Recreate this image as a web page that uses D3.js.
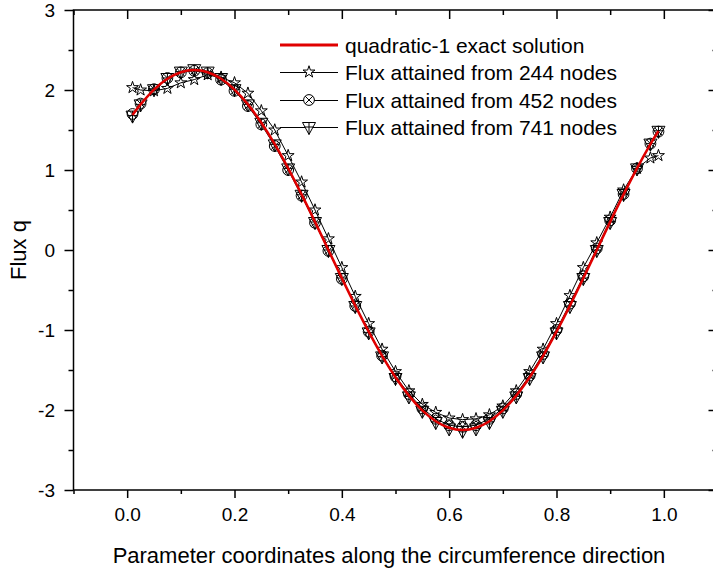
<!DOCTYPE html>
<html>
<head>
<meta charset="utf-8">
<script src="https://cdn.jsdelivr.net/npm/d3@7"></script>
<style>
  body { margin: 0; background: #fff; }
  svg { display: block; font-family: Arial, "Liberation Sans", sans-serif; }
</style>
</head>
<body>
<script>

// parameter coordinate of the nodes
var xVals = [0.01, 0.025, 0.05, 0.075, 0.1, 0.125, 0.15, 0.175, 0.2, 0.225,
             0.25, 0.275, 0.3, 0.325, 0.35, 0.375, 0.4, 0.425, 0.45, 0.475,
             0.5, 0.525, 0.55, 0.575, 0.6, 0.625, 0.65, 0.675, 0.7, 0.725,
             0.75, 0.775, 0.8, 0.825, 0.85, 0.875, 0.9, 0.925, 0.95, 0.975, 0.99];

var exact = [1.688, 1.820, 2.005, 2.140, 2.222, 2.250, 2.222, 2.140, 2.005, 1.820,
             1.591, 1.323, 1.021, 0.695, 0.352, 0.0, -0.352, -0.695, -1.021, -1.323,
             -1.591, -1.820, -2.005, -2.140, -2.222, -2.250, -2.222, -2.140, -2.005, -1.820,
             -1.591, -1.323, -1.021, -0.695, -0.352, 0.0, 0.352, 0.695, 1.021, 1.323, 1.488];

var flux244 = [2.03, 2.00, 1.99, 2.02, 2.09, 2.13, 2.19, 2.16, 2.09, 1.96,
               1.74, 1.50, 1.18, 0.85, 0.50, 0.14, -0.22, -0.58, -0.92, -1.24,
               -1.52, -1.76, -1.93, -2.03, -2.10, -2.12, -2.11, -2.06, -1.95, -1.76,
               -1.52, -1.24, -0.92, -0.57, -0.22, 0.09, 0.41, 0.75, 1.02, 1.15, 1.18];

var flux452 = [1.70, 1.83, 2.01, 2.15, 2.22, 2.24, 2.21, 2.13, 1.99, 1.80,
               1.57, 1.30, 1.00, 0.68, 0.34, -0.01, -0.36, -0.70, -1.02, -1.32,
               -1.58, -1.80, -1.98, -2.11, -2.19, -2.21, -2.19, -2.11, -1.98, -1.80,
               -1.57, -1.30, -1.00, -0.67, -0.33, 0.02, 0.37, 0.70, 1.02, 1.33, 1.48];

var flux741 = [1.68, 1.82, 2.01, 2.15, 2.23, 2.26, 2.23, 2.15, 2.01, 1.82,
               1.59, 1.32, 1.02, 0.69, 0.35, 0.00, -0.35, -0.70, -1.03, -1.33,
               -1.60, -1.83, -2.01, -2.15, -2.23, -2.26, -2.23, -2.15, -2.01, -1.83,
               -1.60, -1.33, -1.03, -0.70, -0.35, 0.00, 0.35, 0.70, 1.02, 1.33, 1.49];

var xTicks = [0.0, 0.2, 0.4, 0.6, 0.8, 1.0];
var xMinor = [-0.1, 0.1, 0.3, 0.5, 0.7, 0.9, 1.1];
var yTicks = [-3, -2, -1, 0, 1, 2, 3];
var yMinor = [-2.5, -1.5, -0.5, 0.5, 1.5, 2.5];

var legendLabels = ["quadratic-1 exact solution",
                    "Flux attained from 244 nodes",
                    "Flux attained from 452 nodes",
                    "Flux attained from 741 nodes"];

var width = 713, height = 571;
var plotL = 73.5, plotR = 717.5, plotT = 10, plotB = 490;

var x = d3.scaleLinear().domain([-0.1, 1.1]).range([plotL, plotR]);
var y = d3.scaleLinear().domain([-3, 3]).range([plotB, plotT]);

var svg = d3.select("body").append("svg")
    .attr("width", width)
    .attr("height", height);

// marker shapes
var starPath = d3.symbol().type(d3.symbolStar).size(44)();

function drawMarker(g, kind, fill) {
  if (kind === "star") {
    g.append("path").attr("d", starPath)
      .attr("fill", fill).attr("stroke", "#000").attr("stroke-width", 1);
  } else if (kind === "circx") {
    var r = 5.4, k = r * Math.SQRT1_2;
    g.append("circle").attr("r", r)
      .attr("fill", fill).attr("stroke", "#000").attr("stroke-width", 1);
    g.append("path").attr("d", "M" + (-k) + "," + (-k) + "L" + k + "," + k + "M" + (-k) + "," + k + "L" + k + "," + (-k))
      .attr("stroke", "#000").attr("stroke-width", 1);
  } else {
    // inverted triangle with a cross
    g.append("path").attr("d", "M-6.5,-4.5L6.5,-4.5L0,7.5Z")
      .attr("fill", fill).attr("stroke", "#000").attr("stroke-width", 1);
    g.append("path").attr("d", "M0,-4.5L0,7.5M-4.6,0L4.6,0")
      .attr("stroke", "#000").attr("stroke-width", 1);
  }
}

var series = [
  {vals: flux244, kind: "star"},
  {vals: flux452, kind: "circx"},
  {vals: flux741, kind: "tri"}
];

var line = d3.line()
    .x(function(d) { return x(d[0]); })
    .y(function(d) { return y(d[1]); });

series.forEach(function(s) {
  var pts = xVals.map(function(v, i) { return [v, s.vals[i]]; });
  svg.append("path").datum(pts)
    .attr("d", line)
    .attr("fill", "none")
    .attr("stroke", "#000")
    .attr("stroke-width", 1);
  svg.append("g").selectAll("g")
    .data(pts)
    .enter().append("g")
    .attr("transform", function(d) { return "translate(" + x(d[0]) + "," + y(d[1]) + ")"; })
    .each(function() { drawMarker(d3.select(this), s.kind, "none"); });
});

// exact solution on top
var smooth = d3.line()
    .x(function(d) { return x(d[0]); })
    .y(function(d) { return y(d[1]); })
    .curve(d3.curveCardinal);

svg.append("path")
  .datum(xVals.map(function(v, i) { return [v, exact[i]]; }))
  .attr("d", smooth)
  .attr("fill", "none")
  .attr("stroke", "#e00000")
  .attr("stroke-width", 2.5);

// axes
function styleAxis(g) {
  g.select(".domain").remove();
  g.selectAll("line").attr("stroke", "#000").attr("stroke-width", 1.5);
  g.selectAll("text").attr("fill", "#000").attr("font-size", 19)
    .attr("font-family", "Arial, 'Liberation Sans', sans-serif");
}

svg.append("g").attr("transform", "translate(0," + plotB + ")")
  .call(d3.axisBottom(x).tickValues(xTicks).tickFormat(d3.format(".1f")).tickSize(8).tickPadding(10))
  .call(styleAxis);
svg.append("g").attr("transform", "translate(0," + plotB + ")")
  .call(d3.axisBottom(x).tickValues(xMinor).tickFormat("").tickSize(4))
  .call(styleAxis);

svg.append("g").attr("transform", "translate(" + plotL + ",0)")
  .call(d3.axisLeft(y).tickValues(yTicks).tickFormat(function(d) { return String(d); }).tickSize(9).tickPadding(9.5))
  .call(styleAxis);
svg.append("g").attr("transform", "translate(" + plotL + ",0)")
  .call(d3.axisLeft(y).tickValues(yMinor).tickFormat("").tickSize(5))
  .call(styleAxis);

svg.append("g").attr("transform", "translate(0," + plotT + ")")
  .call(d3.axisTop(x).tickValues(xTicks).tickFormat("").tickSize(-9))
  .call(styleAxis);
svg.append("g").attr("transform", "translate(0," + plotT + ")")
  .call(d3.axisTop(x).tickValues(xMinor).tickFormat("").tickSize(-5))
  .call(styleAxis);

svg.append("g").attr("transform", "translate(" + plotR + ",0)")
  .call(d3.axisRight(y).tickValues(yTicks).tickFormat("").tickSize(-9))
  .call(styleAxis);
svg.append("g").attr("transform", "translate(" + plotR + ",0)")
  .call(d3.axisRight(y).tickValues(yMinor).tickFormat("").tickSize(-5))
  .call(styleAxis);

svg.append("rect")
  .attr("x", plotL).attr("y", plotT)
  .attr("width", plotR - plotL).attr("height", plotB - plotT)
  .attr("fill", "none").attr("stroke", "#000").attr("stroke-width", 1.5);

// axis titles
svg.append("text")
  .attr("x", 389).attr("y", 563)
  .attr("text-anchor", "middle")
  .attr("font-size", 22)
  .text("Parameter coordinates along the circumference direction");

svg.append("text")
  .attr("transform", "translate(26,250) rotate(-90)")
  .attr("text-anchor", "middle")
  .attr("font-size", 22)
  .text("Flux q");

// legend
var legend = svg.append("g");
var rowY = [45, 72, 100, 127];
legendLabels.forEach(function(lbl, i) {
  var row = legend.append("g").attr("transform", "translate(0," + rowY[i] + ")");
  if (i === 0) {
    row.append("line").attr("x1", 280).attr("x2", 338)
      .attr("stroke", "#e00000").attr("stroke-width", 3);
  } else {
    row.append("line").attr("x1", 280).attr("x2", 338)
      .attr("y1", 0.5).attr("y2", 0.5)
      .attr("stroke", "#000").attr("stroke-width", 1);
    drawMarker(row.append("g").attr("transform", "translate(309,0)"), series[i - 1].kind, "#fff");
  }
  row.append("text")
    .attr("x", 345).attr("y", 7.5)
    .attr("font-size", 21)
    .text(lbl);
});

</script>
</body>
</html>
